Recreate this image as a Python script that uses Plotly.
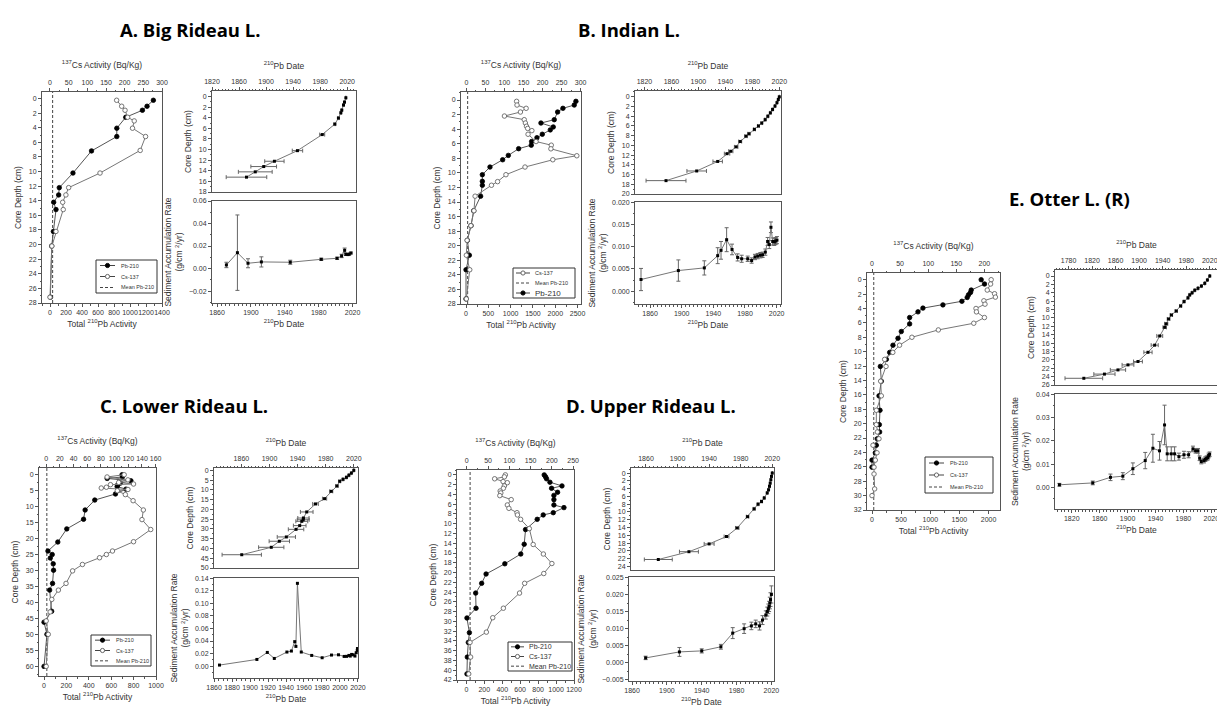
import plotly.graph_objects as go

W, H = 1225, 709

# ---------------- DATA ----------------
# A. Big Rideau L.
A_pb_depth = [0.23, 1.05, 1.6, 2.56, 4.06, 5.2, 7.17, 10.2, 12.2, 13.2, 14.2, 15.2, 18.2, 20.2, 27.2]
A_pb = [1292, 1213, 1155, 947, 835, 835, 519, 287, 116, 108, 46, 75, 42, 21, 5]
A_cs_depth = [0.23, 1.05, 1.6, 2.56, 3.06, 4.06, 5.2, 7.1, 10.2, 12.2, 13.2, 14.2, 15.2, 18.2, 20.2, 27.2]
A_cs = [178.5, 192, 201, 208, 225.6, 221, 256, 241.6, 134, 50, 42.6, 34, 35.5, 16, 5, 0]
A_mean_pb = 33
A_dd_depth = [0.23, 1.05, 1.6, 2.56, 3.06, 4.06, 5.2, 7.17, 10.2, 12.2, 13.2, 14.2, 15.2]
A_dd_year = [2018, 2016, 2014.5, 2012, 2010.6, 2007, 2001.7, 1983, 1946.4, 1912.3, 1896.5, 1884, 1871]
A_dd_err = [0.5, 0.6, 0.7, 0.8, 0.9, 1.0, 1.2, 3.7, 7.7, 14.3, 19, 25, 30]
A_sar_year = [2018, 2016, 2014.5, 2012, 2010.6, 2007, 2001.7, 1983, 1946.4, 1912.3, 1896.5, 1884, 1871]
A_sar = [0.0138, 0.0128, 0.0124, 0.0126, 0.0162, 0.0112, 0.0091, 0.0082, 0.0056, 0.0059, 0.0047, 0.0141, 0.0032]
A_sar_err = [0.0008, 0.0008, 0.0008, 0.001, 0.002, 0.0015, 0.001, 0.001, 0.0018, 0.0045, 0.004, 0.0335, 0.0024]

# B. Indian L.
B_pb_depth = [0.18, 0.69, 1.14, 1.65, 2.7, 3.16, 3.7, 4.1, 4.7, 5.17, 5.7, 6.2, 6.68, 7.6, 8.2, 9.2, 10.25,
              11.16, 11.7, 13.2, 15.2, 17.25, 19.26, 21.3, 23.3, 27.3]
B_pb = [2462, 2425, 2171, 2052, 1977, 1679, 1955, 1888, 1709, 1589, 1470, 1462, 1179, 948, 821, 537, 366,
        366, 366, 328, 172, 112, 30, 75, 0, 0]
B_cs_depth = [0.18, 0.69, 1.14, 1.65, 2.2, 2.7, 3.16, 3.6, 3.9, 4.2, 4.7, 5.7, 6.2, 6.7, 7.65, 8.2, 9.2,
              10.25, 11.2, 11.7, 13.2, 15.2, 17.25, 19.26, 21.3, 23.3, 27.3]
B_cs = [132, 133, 157, 142, 100, 152, 155, 158, 161, 172, 162, 183, 223, 222, 290, 227, 154,
        104, 82, 66, 23, 20, 12, 2, 0, 9, 0]
B_mean_pb = 37
B_dd_depth = [0, 0.55, 1.2, 1.9, 2.6, 3.3, 4.0, 4.7, 5.4, 6.0, 6.7, 7.6, 8.1, 9.2, 10.3, 11.2, 11.7, 13.3, 15.26, 17.25]
B_dd_year = [2020, 2018.5, 2016.5, 2013.6, 2010, 2006.7, 2003, 1999, 1994, 1989, 1983, 1975, 1970.6, 1962,
             1956, 1948, 1942.5, 1928.6, 1897.5, 1852]
B_dd_err = [0.3, 0.4, 0.5, 0.6, 0.7, 0.8, 0.9, 1.0, 1.1, 1.2, 1.4, 1.6, 1.8, 2.2, 2.6, 3.2, 4, 7, 14.5, 29.6]
B_sar_year = [1848.6, 1895.8, 1928.6, 1945.5, 1949.7, 1956.8, 1963.6, 1970.7, 1975.8, 1983.4, 1988.4, 1992.6,
              1996, 1999.4, 2002.3, 2005.7, 2008.6, 2010.7, 2012.8, 2015, 2017, 2018.7, 2020.4]
B_sar = [0.00262, 0.00464, 0.00524, 0.0080, 0.0092, 0.0116, 0.0094, 0.0076, 0.0073, 0.0073, 0.0069, 0.0077,
         0.0079, 0.0081, 0.0082, 0.0088, 0.0112, 0.0105, 0.0144, 0.0112, 0.0111, 0.0113, 0.0115]
B_sar_err = [0.0025, 0.0024, 0.0016, 0.0018, 0.002, 0.0027, 0.0012, 0.0008, 0.0008, 0.0006, 0.0006, 0.0006,
             0.0006, 0.0006, 0.0006, 0.0007, 0.0009, 0.0009, 0.0012, 0.0008, 0.0008, 0.0008, 0.0008]

# C. Lower Rideau L.
C_pb_depth = [0.2, 0.9, 1.35, 2.1, 2.8, 3.3, 3.9, 4.7, 6.2, 8.1, 11.2, 14.1, 17.1, 21.2, 24.0, 25.1, 26.2,
              28.0, 30.0, 34.1, 36.2, 42.8, 46.2, 50, 60]
C_pb = [697, 700, 564, 776, 682, 659, 653, 732, 638, 453, 367, 353, 203, 123, 35, 73, 56,
        82, 85, 76, 50, 68, 0, 26, 0]
C_cs_depth = [0.2, 0.9, 1.8, 2.6, 3.1, 3.3, 4.1, 4.35, 4.8, 5.2, 6.4, 8.3, 11.2, 14.2, 17.3, 21.1, 24.0,
              25.1, 26.1, 28.2, 30.2, 34.1, 36.2, 39.1, 43, 45.8, 50, 60]
C_cs = [114, 89, 119.5, 106, 127.7, 94, 88, 80.5, 119.5, 104, 115.7, 127, 142, 140, 152.8, 127.7, 96.9,
        88, 78, 53, 38.6, 29, 17.8, 8.2, 5.8, 0, 3, 0]
C_mean_pb = 25
C_dd_depth = [0, 1.4, 2.5, 3.6, 4.6, 5.6, 8.0, 10.75, 14.5, 17.2, 21.3, 24.4, 25.3, 26.1, 28.3, 30.2, 34.1,
              36.3, 39.4, 43.2]
C_dd_year = [2020, 2016.6, 2013, 2009.5, 2004.7, 2000, 1996, 1987.9, 1978.4, 1965.5, 1953, 1948.3, 1948,
             1946, 1943, 1937.8, 1924, 1914, 1902.5, 1860.5]
C_dd_err = [0.3, 0.5, 0.7, 0.8, 1, 1.2, 1.6, 2.2, 3, 4, 9, 8, 8.5, 8.5, 9, 11, 13, 14.5, 18, 28]
C_sar_year = [1866, 1907.6, 1919.2, 1927, 1941, 1946, 1949.7, 1951, 1952.7, 1957, 1968.6, 1980.2, 1990.6,
              1998.4, 2004.7, 2007.4, 2010, 2011.5, 2013, 2014.8, 2016.7, 2018.1, 2019.3, 2019.5]
C_sar = [0.0016, 0.0106, 0.0218, 0.0122, 0.0224, 0.024, 0.039, 0.0314, 0.132, 0.0224, 0.017, 0.0133, 0.0176,
         0.018, 0.0154, 0.0155, 0.017, 0.016, 0.0186, 0.018, 0.016, 0.0213, 0.025, 0.028]

# D. Upper Rideau L.
D_pb_depth = [0, 0.4, 0.8, 1.5, 2.26, 2.74, 3.56, 4.2, 5.07, 6.16, 6.7, 7.74, 8.2, 9.1, 11.2, 14.2, 16.2,
              18.2, 20.3, 22.2, 24.2, 27.3, 29.3, 32.3, 34.3, 37.3, 40.75]
D_pb = [868, 883, 894, 932, 1066, 950, 1017, 976, 976, 976, 1088, 969, 857, 790, 660, 645, 607,
        429, 220, 171, 104, 108, 7, 34, 22, 11, 7]
D_cs_depth = [0, 0.4, 0.8, 1.37, 1.6, 2.26, 2.74, 3.3, 3.7, 4.25, 5.07, 6.16, 6.85, 7.74, 8.2, 9.1, 11.0,
              14.25, 16.2, 18.15, 20.2, 22.2, 24.2, 27.3, 29.25, 32.2, 34.3, 37.3, 40.75]
D_cs = [90.7, 88.4, 65.5, 85.4, 95.3, 88.4, 86, 78.5, 80, 77.7, 104.4, 95.3, 99, 118, 119, 126.5, 147,
        156, 180, 200, 181, 136, 124, 86, 61, 46, 7.6, 9, 4.6]
D_mean_pb = 42
D_dd_depth = [0, 0.86, 1.7, 2.6, 3.4, 4.3, 5.1, 6.4, 7.3, 8.0, 9.2, 11.2, 14.1, 16.3, 18.2, 20.2, 22.2]
D_dd_year = [2020, 2019, 2018.2, 2017.4, 2016.5, 2015.3, 2013.6, 2009.8, 2006.4, 2002, 1997, 1988.7,
             1975.6, 1962, 1940, 1914.4, 1875.6]
D_dd_err = [0.3, 0.3, 0.4, 0.4, 0.5, 0.5, 0.6, 0.8, 0.9, 1.0, 1.2, 1.6, 2.2, 3, 6.3, 12, 17.7]
D_sar_year = [1875.6, 1914.4, 1940, 1962, 1975.6, 1988.7, 1997, 2002, 2006.4, 2009.8, 2013.6, 2015.3,
              2016.5, 2017.4, 2018.2, 2019, 2020]
D_sar = [0.00145, 0.0032, 0.0035, 0.0047, 0.0087, 0.0100, 0.0108, 0.0114, 0.0108, 0.0125, 0.0140, 0.0150,
         0.0158, 0.0165, 0.0175, 0.0185, 0.0200]
D_sar_err = [0.0005, 0.0013, 0.0006, 0.0007, 0.0016, 0.0014, 0.0011, 0.0011, 0.0012, 0.0013, 0.0012, 0.0013,
             0.0014, 0.0015, 0.0017, 0.002, 0.0025]

# E. Otter L. (R)
E_pb_depth = [0, 0.6, 1.44, 1.77, 2.1, 2.47, 3.0, 3.5, 3.95, 4.47, 5.26, 6.14, 7.2, 8.14, 9.1, 10.1, 11.07,
              12.05, 14.1, 16.14, 18.14, 20.14, 21.16, 22.1, 23.0, 24.05, 25.07, 26.05]
E_pb = [1874, 1931, 1703, 1691, 1657, 1634, 1543, 1217, 874, 789, 646, 646, 503, 446, 360, 303, 246,
        143, 160, 120, 137, 126, 131, 91, 74, 57, 0, 0]
E_cs_depth = [0, 0.6, 1.44, 1.95, 2.42, 2.93, 3.4, 4.0, 4.47, 5.26, 6.05, 6.98, 8.0, 9.1, 10.1, 11.07, 12.05,
              14.1, 16.14, 18.14, 20.14, 21.16, 22.1, 23.0, 24.05, 25.07, 26.05, 27.0, 29.07, 30.0]
E_cs = [212, 211, 205, 218, 219.5, 199, 201, 185, 185.8, 200, 181, 118, 71, 49, 37, 22.5, 24.9,
        15.4, 16.6, 7.7, 7.7, 9.5, 12.4, 1.8, 8.9, 5.9, 3.6, 3.6, 4.7, 0]
E_mean_pb = 30
E_dd_depth = [0, 0.95, 1.75, 2.4, 2.94, 3.4, 4.0, 4.5, 5.2, 6.1, 7.15, 8.35, 9.3, 10.25, 11.4, 12.25, 14.3,
              16.5, 18.2, 20.4, 21.2, 22.4, 23.4, 24.4]
E_dd_year = [2020, 2016, 2011.5, 2005.8, 2000, 1994.5, 1990, 1986, 1983, 1976.3, 1970.6, 1963, 1954.8, 1950,
             1946, 1943.4, 1935, 1926.4, 1915, 1898, 1881, 1864, 1841, 1806]
E_dd_err = [0.3, 0.4, 0.5, 0.6, 0.7, 0.8, 0.9, 1, 1.1, 1.3, 1.5, 1.8, 2, 2.3, 2.7, 3, 5, 6, 7, 7.5, 10, 13,
            18, 32]
E_sar_year = [1802.3, 1850.1, 1875.5, 1893.2, 1907.6, 1925.3, 1936.3, 1945.8, 1953, 1956.8, 1962.6, 1967.4,
              1973.6, 1980.8, 1987.5, 1993.7, 1997.5, 2000.9, 2003.3, 2005.6, 2009.5, 2011.4, 2013.3, 2015.2,
              2016.2, 2017.6]
E_sar = [0.0011, 0.0019, 0.0043, 0.0048, 0.0080, 0.0115, 0.0168, 0.0157, 0.0268, 0.0144, 0.0144, 0.0144,
         0.0132, 0.0140, 0.0140, 0.0165, 0.0157, 0.0157, 0.0125, 0.0111, 0.0115, 0.0121, 0.0125, 0.0128,
         0.0137, 0.0142]
E_sar_err = [0.0006, 0.0008, 0.0014, 0.0015, 0.0025, 0.0035, 0.006, 0.004, 0.0085, 0.003, 0.003, 0.003,
             0.0015, 0.0015, 0.0013, 0.0012, 0.001, 0.001, 0.001, 0.001, 0.001, 0.001, 0.001, 0.001,
             0.001, 0.001]

# ---------------- STYLE / HELPERS ----------------
FONT = "Liberation Sans, Arial, sans-serif"
AX_COL = "#555555"
TXT_COL = "#333333"
TICK_FS = 7
TITLE_FS = 8.5

fig = go.Figure()
L = {}
shapes = []
annotations = []
cnt = {"x": 0, "y": 0}


def new_ax(kind):
    cnt[kind] += 1
    n = cnt[kind]
    ref = kind if n == 1 else f"{kind}{n}"
    name = f"{kind}axis" if n == 1 else f"{kind}axis{n}"
    return ref, name


def px_x(v):
    return v / W


def px_y(v):
    return 1 - v / H


def ax(title, standoff=3, minor_dtick=None, **kw):
    d = dict(showline=True, linecolor=AX_COL, linewidth=1, ticks="outside", ticklen=3,
             tickcolor=AX_COL, tickwidth=1, showgrid=False, zeroline=False, tickangle=0,
             tickfont=dict(size=TICK_FS, color=TXT_COL, family=FONT),
             title=dict(text=title, font=dict(size=TITLE_FS, color=TXT_COL, family=FONT), standoff=standoff),
             automargin=False)
    if minor_dtick is not None:
        d["minor"] = dict(ticks="outside", ticklen=1.5, tickcolor=AX_COL, dtick=minor_dtick, showgrid=False)
    d.update(kw)
    return d


def profile(box, pb_rng, pb_dt, cs_rng, cs_dt, d_rng, d_dt, pb_depth, pb, cs_depth, cs, mean_pb):
    xr, xn = new_ax("x")
    x2r, x2n = new_ax("x")
    yr, yn = new_ax("y")
    L[xn] = ax("Total <sup>210</sup>Pb Activity", domain=[px_x(box[0]), px_x(box[1])], range=pb_rng,
               dtick=pb_dt, tick0=0, anchor=yr, side="bottom", minor_dtick=pb_dt / 2, standoff=5)
    L[x2n] = ax("<sup>137</sup>Cs Activity (Bq/Kg)", range=cs_rng, dtick=cs_dt, tick0=0, anchor=yr,
                overlaying=xr, side="top", minor_dtick=cs_dt / 2, standoff=9)
    L[yn] = ax("Core Depth (cm)", domain=[px_y(box[3]), px_y(box[2])], range=d_rng, dtick=d_dt, tick0=0,
               anchor=xr, mirror=True, minor_dtick=d_dt / 2, standoff=5)
    fig.add_trace(go.Scatter(x=[mean_pb, mean_pb], y=[d_rng[0], d_rng[1]], mode="lines",
                             line=dict(color="#444", width=1, dash="3px,2px"), xaxis=xr, yaxis=yr,
                             showlegend=False, hoverinfo="skip"))
    fig.add_trace(go.Scatter(x=pb, y=pb_depth, mode="lines+markers",
                             line=dict(color="#555", width=1),
                             marker=dict(symbol="circle", size=4.5, color="black", line=dict(color="black", width=0.8)),
                             xaxis=xr, yaxis=yr, showlegend=False))
    fig.add_trace(go.Scatter(x=cs, y=cs_depth, mode="lines+markers",
                             line=dict(color="#777", width=1),
                             marker=dict(symbol="circle", size=4.5, color="white", line=dict(color="#666", width=0.9)),
                             xaxis=x2r, yaxis=yr, showlegend=False))


def datedepth(box, x_rng, x_t0, d_rng, d_dt, depth, year, err):
    xr, xn = new_ax("x")
    yr, yn = new_ax("y")
    L[xn] = ax("<sup>210</sup>Pb Date", domain=[px_x(box[0]), px_x(box[1])], range=x_rng, dtick=40,
               tick0=x_t0, anchor=yr, side="top", mirror=True, minor_dtick=5, standoff=7)
    L[yn] = ax("Core Depth (cm)", domain=[px_y(box[3]), px_y(box[2])], range=d_rng, dtick=d_dt, tick0=0,
               anchor=xr, mirror=True, minor_dtick=d_dt / 2, standoff=5)
    fig.add_trace(go.Scatter(x=year, y=depth, mode="lines+markers",
                             line=dict(color="#777", width=1),
                             marker=dict(symbol="square", size=3, color="black"),
                             error_x=dict(type="data", array=err, color="#666", thickness=1, width=2),
                             xaxis=xr, yaxis=yr, showlegend=False))


def sar(box, x_rng, x_dt, x_t0, y_rng, y_dt, fmt, year, val, err):
    xr, xn = new_ax("x")
    yr, yn = new_ax("y")
    L[xn] = ax("<sup>210</sup>Pb Date", domain=[px_x(box[0]), px_x(box[1])], range=x_rng, dtick=x_dt,
               tick0=x_t0, anchor=yr, side="bottom", mirror=True, minor_dtick=5, standoff=5)
    L[yn] = ax("Sediment Accumulation Rate<br>(g/cm <sup>2</sup>/yr)", domain=[px_y(box[3]), px_y(box[2])],
               range=y_rng, dtick=y_dt, tick0=0, anchor=xr, mirror=True, minor_dtick=y_dt / 2,
               tickformat=fmt, standoff=4)
    ed = dict(type="data", array=err, color="#666", thickness=1, width=2) if err is not None else None
    fig.add_trace(go.Scatter(x=year, y=val, mode="lines+markers",
                             line=dict(color="#777", width=1),
                             marker=dict(symbol="square", size=3, color="black"),
                             error_y=ed, xaxis=xr, yaxis=yr, showlegend=False))


def legend_box(box, entries, ls=(4, 19), tx=23):
    x0, y0, x1, y1 = box
    shapes.append(dict(type="rect", xref="paper", yref="paper", x0=px_x(x0), x1=px_x(x1),
                       y0=px_y(y1), y1=px_y(y0), line=dict(color="#333", width=1), fillcolor="white"))
    n = len(entries)
    rh = (y1 - y0) / n
    for i, (label, kind, fs) in enumerate(entries):
        yc = y0 + rh * (i + 0.5)
        ls0, ls1 = x0 + ls[0], x0 + ls[1]
        shapes.append(dict(type="line", xref="paper", yref="paper", x0=px_x(ls0), x1=px_x(ls1),
                           y0=px_y(yc), y1=px_y(yc),
                           line=dict(color="#444", width=1, dash="3px,2px" if kind == "mean" else "solid")))
        if kind != "mean":
            xc, r = (ls0 + ls1) / 2, 2.1
            shapes.append(dict(type="circle", xref="paper", yref="paper", x0=px_x(xc - r), x1=px_x(xc + r),
                               y0=px_y(yc + r), y1=px_y(yc - r),
                               fillcolor="black" if kind == "pb" else "white",
                               line=dict(color="black" if kind == "pb" else "#666", width=1)))
        annotations.append(dict(text=label, xref="paper", yref="paper", x=px_x(x0 + tx), y=px_y(yc),
                                xanchor="left", yanchor="middle", showarrow=False,
                                font=dict(size=fs, color=TXT_COL, family=FONT)))


def title(text, cx, cy):
    annotations.append(dict(text=f"<b>{text}</b>", xref="paper", yref="paper", x=px_x(cx), y=px_y(cy),
                            xanchor="center", yanchor="middle", showarrow=False,
                            font=dict(size=18.5, color="black", family="Open Sans, sans-serif")))


# ---------------- PANELS ----------------
# A
profile((34, 154, 84, 295), [-100, 1400], 200, [-21.4, 300], 50, [28, -0.9], 2,
        A_pb_depth, A_pb, A_cs_depth, A_cs, A_mean_pb)
datedepth((204, 348, 83, 184), [1820, 2033], 1820, [18, -1.05], 2, A_dd_depth, A_dd_year, A_dd_err)
sar((204, 348, 193, 295), [1854, 2024], 40, 1860, [-0.0306, 0.06], 0.02, ".2f",
    A_sar_year, A_sar, A_sar_err)
legend_box((88, 252, 149, 285), [("Pb-210", "pb", 5.5), ("Cs-137", "cs", 5.5), ("Mean Pb-210", "mean", 5.5)])
title("A. Big Rideau L.", 182, 22)

# B
profile((453, 573, 84, 296), [-112, 2576], 500, [-14, 301], 50, [28, -1.1], 2,
        B_pb_depth, B_pb, B_cs_depth, B_cs, B_mean_pb)
datedepth((627, 773, 83, 186), [1806, 2022.5], 1820, [20, -1.2], 2, B_dd_depth, B_dd_year, B_dd_err)
sar((627, 773, 194, 296), [1841, 2025.5], 40, 1860, [-0.0029, 0.0201], 0.005, ".3f",
    B_sar_year, B_sar, B_sar_err)
legend_box((505, 260, 567, 290), [("Cs-137", "cs", 5.5), ("Mean Pb-210", "mean", 5.5), ("Pb-210", "pb", 8)],
           ls=(3, 17), tx=20)
title("B. Indian L.", 621, 22)

# C
profile((31, 148, 460, 668), [-45, 1000], 200, [-10.5, 160.5], 20, [63, -1.9], 5,
        C_pb_depth, C_pb, C_cs_depth, C_cs, C_mean_pb)
datedepth((206, 350, 460, 560), [1821, 2026], 1860, [50, -1.2], 5, C_dd_depth, C_dd_year, C_dd_err)
sar((206, 350, 570, 670), [1859.9, 2020.1], 20, 1860, [-0.019, 0.1405], 0.02, ".2f",
    C_sar_year, C_sar, None)
legend_box((83, 627, 143, 658), [("Pb-210", "pb", 5.5), ("Cs-137", "cs", 5.5), ("Mean Pb-210", "mean", 5.5)])
title("C. Lower Rideau L.", 176, 397)

# D
profile((449, 566, 462, 672), [-104, 1200], 200, [-23, 252], 50, [42, -1], 2,
        D_pb_depth, D_pb, D_cs_depth, D_cs, D_mean_pb)
datedepth((623, 766, 460, 562), [1841, 2022.2], 1860, [24.9, -1.3], 2, D_dd_depth, D_dd_year, D_dd_err)
sar((621, 766, 569, 673), [1856.5, 2023], 40, 1860, [-0.0053, 0.0251], 0.005, ".3f",
    D_sar_year, D_sar, D_sar_err)
legend_box((500, 634, 564, 663), [("Pb-210", "pb", 7), ("Cs-137", "cs", 7), ("Mean Pb-210", "mean", 7)],
           ls=(3, 16), tx=19)
title("D. Upper Rideau L.", 643, 397)

# E
profile((859, 992, 265, 502), [-86, 2197], 500, [-8.9, 227.7], 50, [32, -0.93], 2,
        E_pb_depth, E_pb, E_cs_depth, E_cs, E_mean_pb)
datedepth((1047, 1210, 262, 377), [1757, 2034], 1780, [26, -1.43], 2, E_dd_depth, E_dd_year, E_dd_err)
sar((1047, 1210, 386, 501), [1796, 2029.6], 40, 1820, [-0.0093, 0.0401], 0.01, ".2f",
    E_sar_year, E_sar, E_sar_err)
legend_box((917, 449, 985, 485), [("Pb-210", "pb", 5.5), ("Cs-137", "cs", 5.5), ("Mean Pb-210", "mean", 5.5)])
title("E. Otter L. (R)", 1061, 190)

fig.update_layout(
    width=W, height=H, margin=dict(l=0, r=0, t=0, b=0),
    paper_bgcolor="white", plot_bgcolor="white",
    font=dict(family=FONT, color=TXT_COL),
    showlegend=False, shapes=shapes, annotations=annotations,
    **L,
)

fig.write_html("out.html")
